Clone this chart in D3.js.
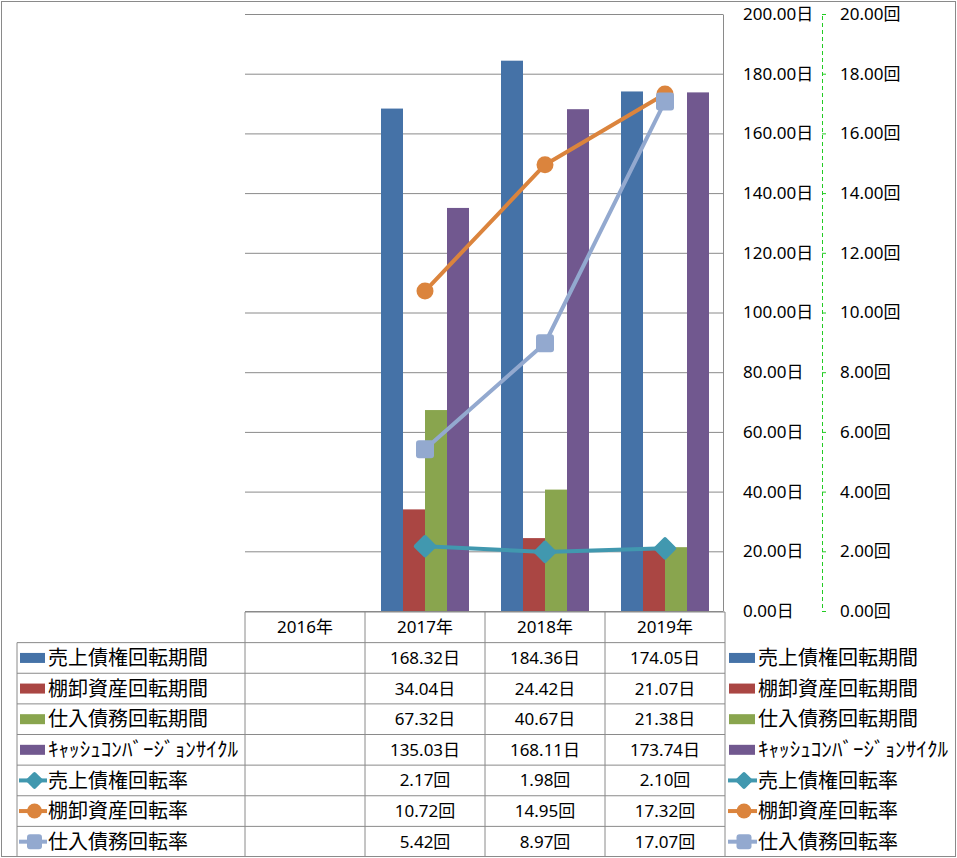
<!DOCTYPE html>
<html>
<head>
<meta charset="utf-8">
<script src="https://cdn.jsdelivr.net/npm/d3@7"></script>
<style>
  body { margin: 0; background: #fff; }
  text { font-family: "Noto Sans", "Noto Sans CJK JP", sans-serif; fill: #000; }
</style>
</head>
<body>
<svg id="chart_svg"></svg>
<script>
// categories and series
var years = ["2016年", "2017年", "2018年", "2019年"];
var barNames = ["売上債権回転期間", "棚卸資産回転期間", "仕入債務回転期間", "ｷｬｯｼｭｺﾝﾊﾞｰｼﾞｮﾝｻｲｸﾙ"];
var lineNames = ["売上債権回転率", "棚卸資産回転率", "仕入債務回転率"];
var arDays = [null, 168.32, 184.36, 174.05];
var invDays = [null, 34.04, 24.42, 21.07];
var apDays = [null, 67.32, 40.67, 21.38];
var cccDays = [null, 135.03, 168.11, 173.74];
var arTurn = [null, 2.17, 1.98, 2.10];
var invTurn = [null, 10.72, 14.95, 17.32];
var apTurn = [null, 5.42, 8.97, 17.07];
var dayTicks = [0, 20, 40, 60, 80, 100, 120, 140, 160, 180, 200];
var rateTicks = [0, 2, 4, 6, 8, 10, 12, 14, 16, 18, 20];

var barSeries = [arDays, invDays, apDays, cccDays];
var lineSeries = [arTurn, invTurn, apTurn];
var barColors = ["#4572A7", "#AA4643", "#89A54E", "#71588F"];
var lineColors = ["#4198AF", "#DB843D", "#93A9CF"];
var markers = ["diamond", "circle", "square"];

var W = 957, H = 858;
var plot = {left: 245, right: 723, top: 14, bottom: 611};
var gray = "#8a8a8a";

var svg = d3.select("#chart_svg").attr("width", W).attr("height", H);

svg.append("rect")
  .attr("x", 1.5).attr("y", 1.5).attr("width", W - 3).attr("height", H - 3)
  .attr("fill", "#fff").attr("stroke", gray);

var x = d3.scaleBand().domain(years).range([plot.left, plot.right + 2]);
var xInner = d3.scaleBand().domain(d3.range(barNames.length)).range([16, 104]);
var yDays = d3.scaleLinear().domain([0, 200]).range([plot.bottom, plot.top]);
var yRate = d3.scaleLinear().domain([0, 20]).range([plot.bottom, plot.top]);

// gridlines
var grid = svg.append("g")
  .attr("transform", "translate(" + plot.left + ",0)")
  .call(d3.axisRight(yDays).tickValues(dayTicks).tickSize(plot.right - plot.left).tickFormat(""));
grid.select(".domain").remove();
grid.selectAll("line").attr("stroke", gray);

// bars
barSeries.forEach(function(vals, s) {
  svg.append("g").selectAll("rect")
    .data(years.map(function(y, i) { return {year: y, v: vals[i]}; }).filter(function(d) { return d.v != null; }))
    .enter().append("rect")
    .attr("x", function(d) { return x(d.year) + xInner(s); })
    .attr("y", function(d) { return yDays(d.v); })
    .attr("width", xInner.bandwidth())
    .attr("height", function(d) { return yDays(0) - yDays(d.v); })
    .attr("fill", barColors[s]);
});

function drawMarker(g, type, cx, cy, size, color) {
  if (type === "diamond") {
    g.append("rect").attr("x", -size / 2).attr("y", -size / 2).attr("width", size).attr("height", size)
      .attr("rx", 2).attr("fill", color)
      .attr("transform", "translate(" + cx + "," + cy + ") rotate(45)");
  } else if (type === "circle") {
    g.append("circle").attr("cx", cx).attr("cy", cy).attr("r", size / 2).attr("fill", color);
  } else {
    g.append("rect").attr("x", cx - size / 2).attr("y", cy - size / 2).attr("width", size).attr("height", size)
      .attr("rx", 3).attr("fill", color);
  }
}

// lines on the secondary axis
var line = d3.line()
  .defined(function(d) { return d.v != null; })
  .x(function(d) { return x(d.year) + x.bandwidth() / 2; })
  .y(function(d) { return yRate(d.v); });

lineSeries.forEach(function(vals, s) {
  var pts = years.map(function(y, i) { return {year: y, v: vals[i]}; });
  var g = svg.append("g");
  g.append("path").datum(pts)
    .attr("d", line)
    .attr("fill", "none").attr("stroke", lineColors[s]).attr("stroke-width", 4)
    .attr("stroke-linejoin", "round");
  var sizes = {diamond: 17, circle: 17, square: 18};
  pts.filter(function(d) { return d.v != null; }).forEach(function(d) {
    drawMarker(g, markers[s], x(d.year) + x.bandwidth() / 2, yRate(d.v), sizes[markers[s]], lineColors[s]);
  });
});

// primary axis (days) on the right of the plot
var axDays = svg.append("g")
  .attr("transform", "translate(" + plot.right + ",0)")
  .call(d3.axisRight(yDays).tickValues(dayTicks).tickSize(0).tickPadding(20)
    .tickFormat(function(d) { return d3.format(".2f")(d) + "日"; }));
axDays.select(".domain").attr("stroke", gray);
axDays.selectAll("text").attr("font-family", null).style("font-size", "17px");

// secondary axis (times)
var axRate = svg.append("g")
  .attr("transform", "translate(822,0)")
  .call(d3.axisRight(yRate).tickValues(rateTicks).tickSize(4).tickSizeOuter(4).tickPadding(14)
    .tickFormat(function(d) { return d3.format(".2f")(d) + "回"; }));
axRate.select(".domain").attr("stroke", "#22cc22").attr("stroke-dasharray", "4,3");
axRate.selectAll("line").attr("stroke", "#22cc22");
axRate.selectAll("text").attr("font-family", null).style("font-size", "17px");

// data table
var rowKeys = ["header"].concat(barNames, lineNames);
var rows = d3.scaleBand().domain(rowKeys).range([612, 857]);
var tbl = svg.append("g").attr("stroke", gray).attr("stroke-width", 1);
var colEdges = years.map(function(y) { return x(y); }).concat([x(years[years.length - 1]) + x.bandwidth()]);

tbl.append("line").attr("x1", plot.left).attr("x2", colEdges[colEdges.length - 1])
  .attr("y1", rows("header")).attr("y2", rows("header"));
rowKeys.slice(1).forEach(function(k) {
  tbl.append("line").attr("x1", 17).attr("x2", colEdges[colEdges.length - 1])
    .attr("y1", rows(k)).attr("y2", rows(k));
});
colEdges.forEach(function(cx) {
  tbl.append("line").attr("x1", cx).attr("x2", cx).attr("y1", rows("header")).attr("y2", 857);
});
tbl.append("line").attr("x1", 17).attr("x2", 17).attr("y1", rows(barNames[0])).attr("y2", 857);

var cy = function(k) { return rows(k) + rows.bandwidth() / 2; };

years.forEach(function(y) {
  svg.append("text").attr("x", x(y) + x.bandwidth() / 2).attr("y", cy("header"))
    .attr("dy", "0.35em").attr("text-anchor", "middle").style("font-size", "17px").text(y);
});

barSeries.forEach(function(vals, s) {
  vals.forEach(function(v, i) {
    if (v == null) return;
    svg.append("text").attr("x", x(years[i]) + x.bandwidth() / 2).attr("y", cy(barNames[s]))
      .attr("dy", "0.35em").attr("text-anchor", "middle").style("font-size", "17px")
      .text(d3.format(".2f")(v) + "日");
  });
});
lineSeries.forEach(function(vals, s) {
  vals.forEach(function(v, i) {
    if (v == null) return;
    svg.append("text").attr("x", x(years[i]) + x.bandwidth() / 2).attr("y", cy(lineNames[s]))
      .attr("dy", "0.35em").attr("text-anchor", "middle").style("font-size", "17px")
      .text(d3.format(".2f")(v) + "回");
  });
});

// legend keys: inside the table and on the right
function legendEntries(x0, keyW, textX) {
  var g = svg.append("g");
  barNames.forEach(function(n, s) {
    g.append("rect").attr("x", x0).attr("y", cy(n) - 5).attr("width", keyW).attr("height", 10)
      .attr("fill", barColors[s]);
    var t = g.append("text").attr("x", textX).attr("y", cy(n)).attr("dy", "0.36em")
      .style("font-size", "20px").text(n);
    if (s === 3) t.attr("textLength", 190).attr("lengthAdjust", "spacingAndGlyphs");
  });
  lineNames.forEach(function(n, s) {
    g.append("line").attr("x1", x0 - 1).attr("x2", x0 + keyW + 2).attr("y1", cy(n)).attr("y2", cy(n))
      .attr("stroke", lineColors[s]).attr("stroke-width", 4);
    drawMarker(g, markers[s], x0 + keyW / 2 + 2, cy(n), markers[s] === "diamond" ? 13 : 15, lineColors[s]);
  });
  lineNames.forEach(function(n, s) {
    g.append("text").attr("x", textX).attr("y", cy(n)).attr("dy", "0.36em")
      .style("font-size", "20px").text(n);
  });
}
legendEntries(20, 25, 48);
legendEntries(729, 26, 758);
</script>
</body>
</html>
